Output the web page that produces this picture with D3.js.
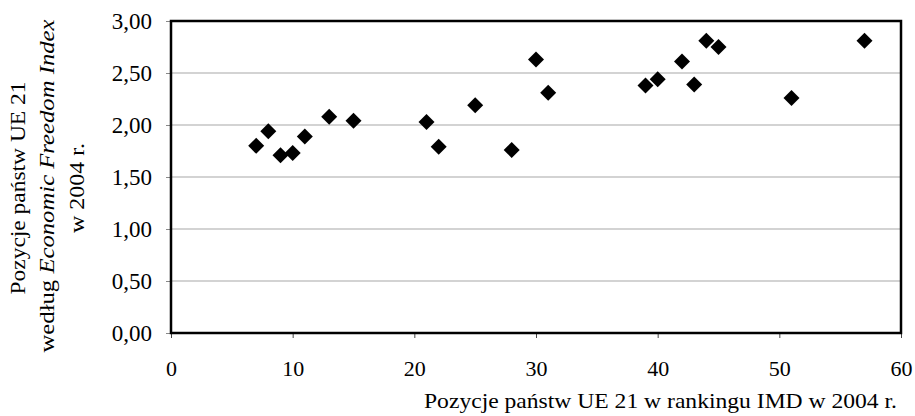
<!DOCTYPE html>
<html>
<head>
<meta charset="utf-8">
<script src="https://cdn.jsdelivr.net/npm/d3@7"></script>
<style>
  html, body { margin: 0; padding: 0; background: #fff; }
  svg { display: block; }
  text { font-family: "Liberation Serif", "Times New Roman", serif; fill: #000; }
</style>
</head>
<body>
<svg id="chart" width="915" height="416"></svg>
<script>
// IMD ranking position 2004 (x) vs Economic Freedom Index 2004 (y), EU 21 countries
const imdRank = [7, 8, 9, 10, 11, 13, 15, 21, 22, 25, 28, 30, 31, 39, 40, 42, 43, 44, 45, 51, 57];
const efiScore = [1.80, 1.94, 1.71, 1.73, 1.89, 2.08, 2.04, 2.03, 1.79, 2.19, 1.76, 2.63, 2.31, 2.38, 2.44, 2.61, 2.39, 2.81, 2.75, 2.26, 2.81];
const xTicks = [0, 10, 20, 30, 40, 50, 60];
const yTicks = [0, 0.5, 1, 1.5, 2, 2.5, 3];
const xTitle = "Pozycje państw UE 21 w rankingu IMD w 2004 r.";
const yTitleLine1 = "Pozycje państw UE 21";
const yTitleLine2a = "według ";
const yTitleLine2b = "Economic Freedom Index";
const yTitleLine3 = "w 2004 r.";

const points = imdRank.map((x, i) => ({ x, y: efiScore[i] }));

const svg = d3.select("#chart");
const m = { left: 171, right: 901, top: 21, bottom: 333 };

const x = d3.scaleLinear().domain([0, 60]).range([m.left, m.right]);
const y = d3.scaleLinear().domain([0, 3]).range([m.bottom, m.top]);

const fmt = v => d3.format(".2f")(v).replace(".", ",");

// gridlines
svg.append("g")
  .selectAll("line")
  .data(yTicks.filter(v => v > 0 && v < 3))
  .join("line")
  .attr("x1", m.left).attr("x2", m.right)
  .attr("y1", d => y(d)).attr("y2", d => y(d))
  .attr("stroke", "#a8a8a8").attr("stroke-width", 1.2);

// y axis ticks & labels
const yAxis = svg.append("g").attr("transform", `translate(${m.left},0)`)
  .call(d3.axisLeft(y).tickValues(yTicks).tickFormat(fmt).tickSize(5).tickPadding(14));
yAxis.select(".domain").remove();
yAxis.selectAll(".tick line").attr("stroke", "#888");
yAxis.selectAll(".tick text")
  .style("font-family", '"Liberation Serif", serif')
  .style("font-size", "23px").attr("fill", "#000").attr("dy", "0.34em");

// x axis ticks & labels
const xAxis = svg.append("g").attr("transform", `translate(0,${m.bottom})`)
  .call(d3.axisBottom(x).tickValues(xTicks).tickFormat(d3.format("d")).tickSize(5).tickPadding(22));
xAxis.select(".domain").remove();
xAxis.selectAll(".tick line").attr("stroke", "#444");
xAxis.selectAll(".tick text")
  .style("font-family", '"Liberation Serif", serif')
  .style("font-size", "22px").attr("fill", "#000").attr("dy", "0.71em");

// plot frame
svg.append("rect")
  .attr("x", m.left).attr("y", m.top)
  .attr("width", m.right - m.left).attr("height", m.bottom - m.top)
  .attr("fill", "none").attr("stroke", "#000").attr("stroke-width", 2.5);

// points (diamonds)
const diamond = d3.symbol().type(d3.symbolSquare).size(128);
svg.append("g")
  .selectAll("path")
  .data(points)
  .join("path")
  .attr("d", diamond)
  .attr("transform", d => `translate(${x(d.x)},${y(d.y)}) rotate(45)`)
  .attr("fill", "#000");

// x title
svg.append("text")
  .attr("x", 897).attr("y", 408)
  .attr("text-anchor", "end")
  .style("font-size", "22px")
  .attr("textLength", 473).attr("lengthAdjust", "spacingAndGlyphs")
  .text(xTitle);

// y title (3 lines, rotated)
const cy = 188;
svg.append("text")
  .attr("transform", `translate(25,${cy}) rotate(-90)`)
  .attr("text-anchor", "middle")
  .style("font-size", "21px")
  .attr("textLength", 213).attr("lengthAdjust", "spacingAndGlyphs")
  .text(yTitleLine1);

const t2 = svg.append("text")
  .attr("transform", `translate(54,${cy - 2}) rotate(-90)`)
  .attr("text-anchor", "middle")
  .style("font-size", "21px")
  .attr("textLength", 333).attr("lengthAdjust", "spacingAndGlyphs");
t2.append("tspan").text(yTitleLine2a);
t2.append("tspan").style("font-style", "italic").text(yTitleLine2b);

svg.append("text")
  .attr("transform", `translate(84,${cy}) rotate(-90)`)
  .attr("text-anchor", "middle")
  .style("font-size", "21px")
  .attr("textLength", 90).attr("lengthAdjust", "spacingAndGlyphs")
  .text(yTitleLine3);
</script>
</body>
</html>
